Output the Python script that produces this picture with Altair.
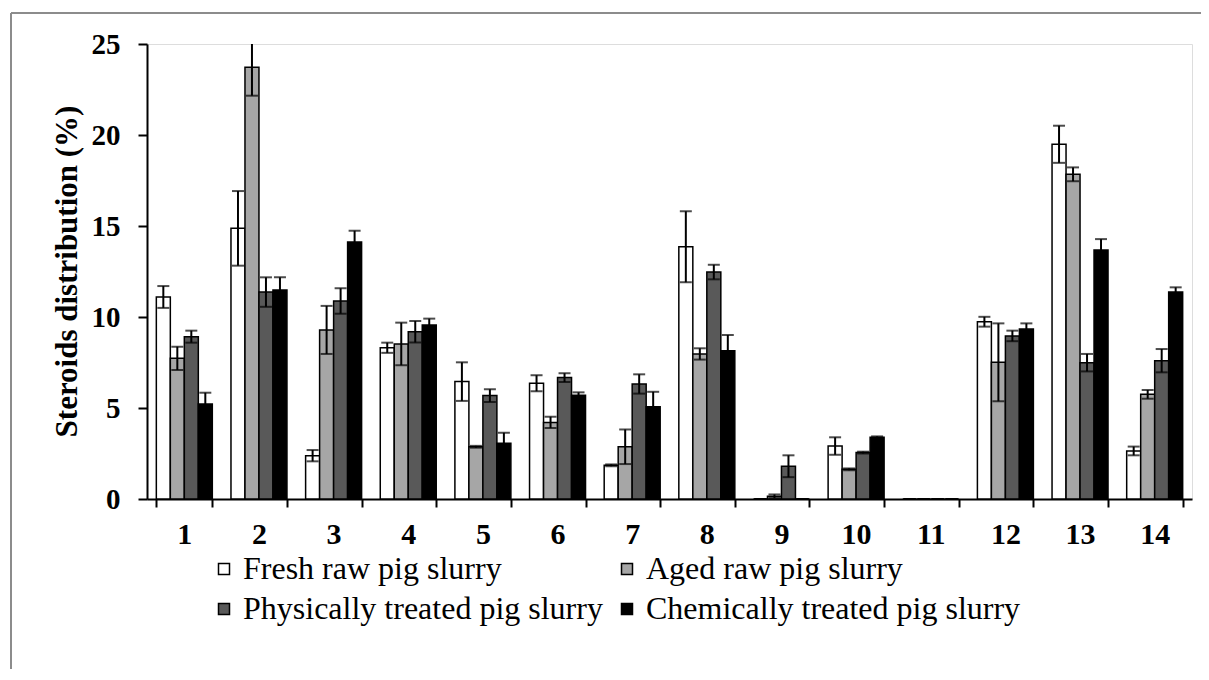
import altair as alt
import pandas as pd

categories = [str(i) for i in range(1, 15)]
series = ["Fresh raw pig slurry", "Aged raw pig slurry",
          "Physically treated pig slurry", "Chemically treated pig slurry"]
colors = ["#ffffff", "#a6a6a6", "#595959", "#000000"]

fresh = [11.1, 14.87, 2.38, 8.31, 6.45, 6.36, 1.85, 13.86, 0, 2.91, 0, 9.74, 19.49, 2.64]
fresh_err = [0.6, 2.05, 0.31, 0.28, 1.06, 0.44, 0.05, 1.95, 0, 0.48, 0, 0.27, 1.02, 0.24]
aged = [7.73, 23.72, 9.29, 8.52, 2.87, 4.21, 2.87, 7.97, 0.15, 1.63, 0, 7.51, 17.84, 5.75]
aged_err = [0.64, 1.56, 1.32, 1.17, 0.05, 0.31, 0.95, 0.31, 0.1, 0.05, 0, 2.14, 0.38, 0.24]
phys = [8.92, 11.37, 10.88, 9.19, 5.68, 6.67, 6.32, 12.47, 1.8, 2.55, 0, 8.96, 7.49, 7.6]
phys_err = [0.33, 0.81, 0.7, 0.59, 0.35, 0.24, 0.53, 0.4, 0.6, 0.05, 0, 0.29, 0.48, 0.64]
chem = [5.22, 11.48, 14.12, 9.56, 3.06, 5.7, 5.07, 8.15, 0, 3.39, 0, 9.34, 13.68, 11.37]
chem_err = [0.62, 0.7, 0.62, 0.35, 0.58, 0.16, 0.82, 0.86, 0, 0.05, 0, 0.31, 0.6, 0.26]

rows = []
for s, vals, errs in zip(series, [fresh, aged, phys, chem],
                         [fresh_err, aged_err, phys_err, chem_err]):
    for c, v, e in zip(categories, vals, errs):
        rows.append({"cat": c, "series": s, "value": v,
                     "lo": v - e, "hi": v + e})
df = pd.DataFrame(rows)

FONT = "Liberation Serif"

x_enc = alt.X("cat:N", sort=categories, title=None,
              scale=alt.Scale(paddingInner=0.25, paddingOuter=0.125),
              axis=alt.Axis(labelAngle=0, labelFont=FONT, labelFontSize=30,
                            labelFontWeight="bold", labelColor="black",
                            tickBand="extent", tickSize=8, tickWidth=2,
                            tickColor="black", domainColor="black",
                            domainWidth=2, labelPadding=12))
xoff = alt.XOffset("series:N", sort=series,
                   scale=alt.Scale(paddingInner=0, paddingOuter=0))
y_scale = alt.Scale(domain=[0, 25], nice=False, zero=True)

bars = alt.Chart(df).mark_bar(stroke="black", strokeWidth=1.5).encode(
    x=x_enc,
    xOffset=xoff,
    y=alt.Y("value:Q", scale=y_scale, title="Steroids distribution (%)",
            axis=alt.Axis(values=[0, 5, 10, 15, 20, 25], grid=False,
                          labelFont=FONT, labelFontSize=29,
                          labelFontWeight="bold", labelColor="black",
                          labelPadding=18, tickSize=9, tickWidth=2,
                          tickColor="black", domainColor="black",
                          domainWidth=2,
                          titleFont=FONT, titleFontSize=31,
                          titleFontWeight="bold", titleColor="black",
                          titleX=-80, titleY=227, titleAngle=-90,
                          titleAlign="center", titleBaseline="middle")),
    fill=alt.Fill("series:N", sort=series,
                  scale=alt.Scale(domain=series, range=colors),
                  legend=alt.Legend(title=None, orient="none",
                                    legendX=61, legendY=509, columns=2,
                                    direction="horizontal",
                                    gridAlign="each", columnPadding=8,
                                    rowPadding=8, padding=0,
                                    symbolType="square", symbolSize=121,
                                    symbolStrokeColor="black",
                                    symbolStrokeWidth=1.5,
                                    labelFont=FONT, labelFontSize=32,
                                    labelColor="black", labelOffset=3,
                                    labelLimit=600)),
)

err_rule = alt.Chart(df).mark_rule(color="black", strokeWidth=2, clip=True).encode(
    x=alt.X("cat:N", sort=categories),
    xOffset=xoff,
    y=alt.Y("lo:Q", scale=y_scale),
    y2="hi:Q",
)
cap_lo = alt.Chart(df).mark_tick(color="black", thickness=2, size=12, clip=True).encode(
    x=alt.X("cat:N", sort=categories),
    xOffset=xoff,
    y=alt.Y("lo:Q", scale=y_scale),
)
cap_hi = alt.Chart(df).mark_tick(color="black", thickness=2, size=12, clip=True).encode(
    x=alt.X("cat:N", sort=categories),
    xOffset=xoff,
    y=alt.Y("hi:Q", scale=y_scale),
)

frame_df = pd.DataFrame({"k": [0]})
frame_left = alt.Chart(frame_df).mark_rule(color="#8c8c8c", strokeWidth=2).encode(
    x=alt.value(-136), y=alt.value(-31), y2=alt.value(628))
frame_top = alt.Chart(frame_df).mark_rule(color="#8c8c8c", strokeWidth=2).encode(
    x=alt.value(-136), x2=alt.value(1054), y=alt.value(-31))

chart = alt.layer(bars, err_rule, cap_lo, cap_hi, frame_left, frame_top).properties(
    width=1045, height=455,
    padding={"left": 139, "top": 36, "right": 9, "bottom": 170},
    autosize=alt.AutoSizeParams(type="none"),
).configure_view(stroke="#7f7f7f", strokeWidth=2).configure(background="white")

chart.save("out.html", embed_options={"renderer": "svg", "actions": False})
